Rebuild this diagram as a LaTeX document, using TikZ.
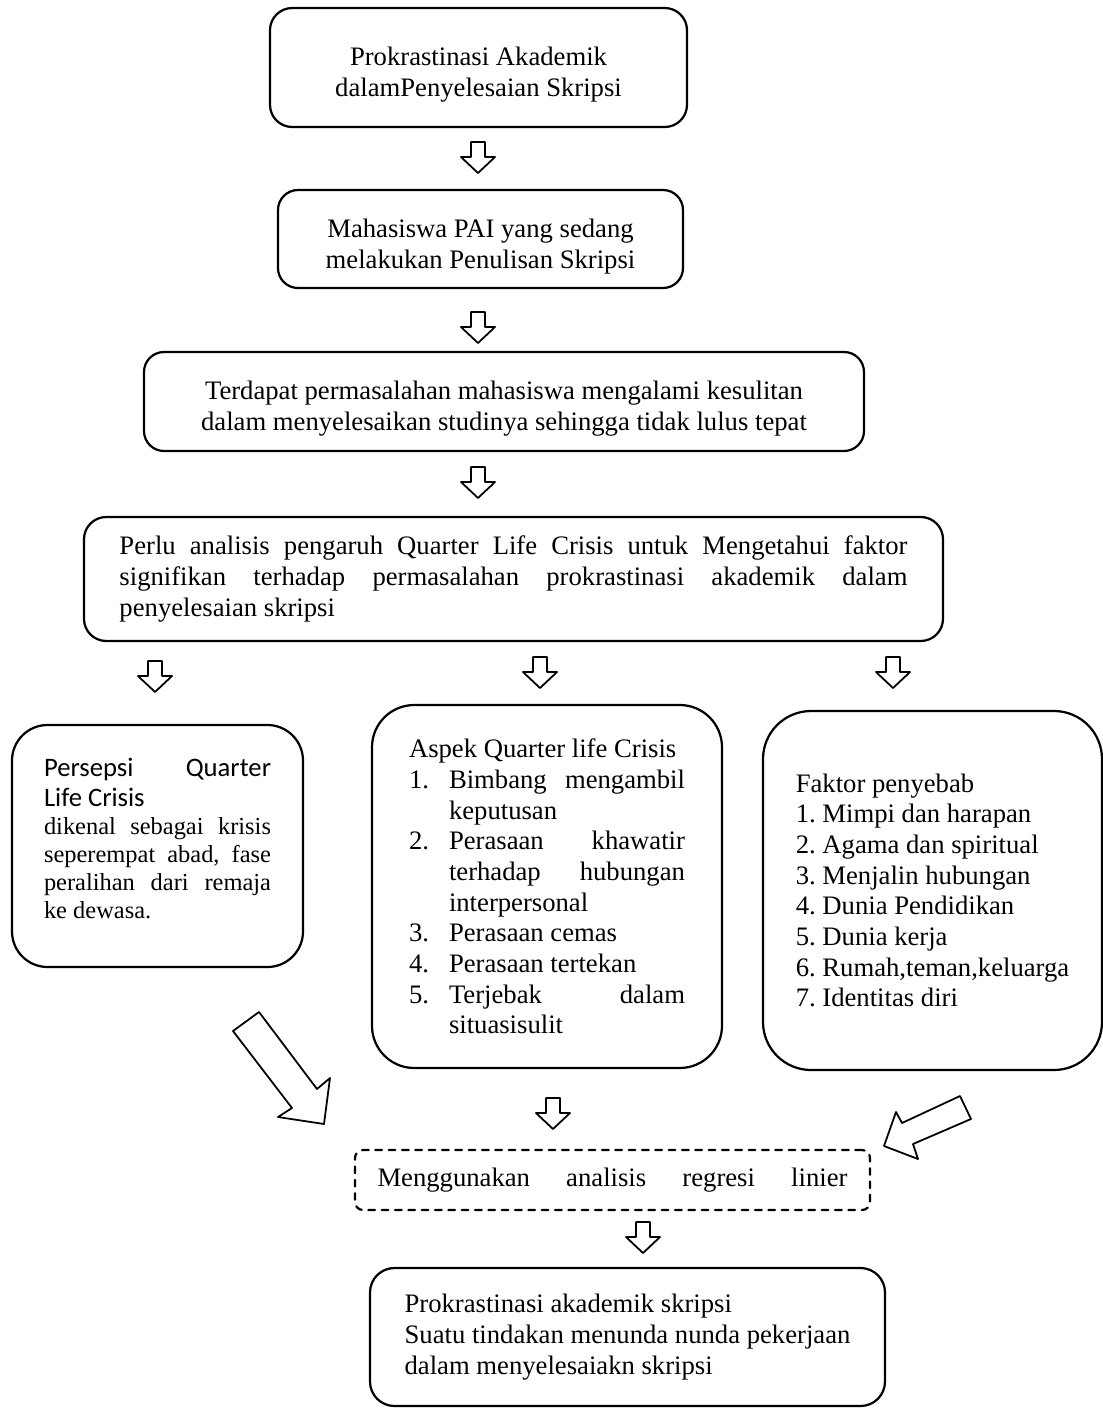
\documentclass[tikz,border=0pt]{standalone}
\usepackage{fontspec}
\setmainfont{Liberation Serif}
\setsansfont{Carlito}
\tolerance=10000
\hbadness=10000
\hyphenpenalty=10000
\frenchspacing
\setlength{\parindent}{0pt}
\newcommand{\pxu}{0.45pt}
\newcommand{\lsitem}[2]{\par\noindent\hangindent=18pt\hangafter=1\makebox[18pt][l]{#1}#2}

\begin{document}
\begin{tikzpicture}[x=\pxu,y=-\pxu,line cap=round,line join=round,
  font=\fontsize{12}{13.8}\selectfont,
  box/.style={draw,line width=1pt,rounded corners=#1,inner sep=0pt},
  arrline/.style={draw,line width=0.8pt,fill=white},
  pics/downarr/.style={code={\draw[arrline] (-7,0) -- (-7,15) -- (-17,15) -- (0,31) -- (17,15) -- (7,15) -- (7,0) -- cycle;}}]
\useasboundingbox (0,0) rectangle (1103,1409);
\node[box=10pt,minimum width=187.65pt,minimum height=53.55pt,align=center] (prok) at (478.5,67.5) {\rule{0pt}{14.5pt}Prokrastinasi Akademik\\dalamPenyelesaian Skripsi};
\node[box=9pt,minimum width=182.25pt,minimum height=44.1pt,align=center] (mhs) at (480.5,239) {\rule{0pt}{15pt}Mahasiswa PAI yang sedang\\melakukan Penulisan Skripsi};
\node[box=9pt,minimum width=324pt,minimum height=44.55pt,align=center] (masalah) at (504,401.5) {\rule{0pt}{14.5pt}Terdapat permasalahan mahasiswa mengalami kesulitan\\dalam menyelesaikan studinya sehingga tidak lulus tepat};
\node[box=10pt,minimum width=386.55pt,minimum height=55.8pt,text width=354.6pt,align=justify] (analisis) at (513.5,579) {Perlu analisis pengaruh Quarter Life Crisis untuk Mengetahui faktor\linebreak signifikan terhadap permasalahan prokrastinasi akademik dalam\linebreak penyelesaian skripsi};
\node[box=16pt,minimum width=130.95pt,minimum height=108.9pt,text width=102.15pt,align=justify] (persepsi) at (157.5,846) {{\fontsize{12}{13.5}\selectfont\sffamily Persepsi\hfill Quarter\\Life Crisis\par}{\fontsize{11}{12.6}\selectfont dikenal sebagai krisis\linebreak seperempat abad, fase\linebreak peralihan dari remaja\linebreak ke dewasa.\par\vspace{-5.4pt}\mbox{}\par}};
\node[box=19pt,minimum width=157.5pt,minimum height=163.35pt,text width=124.2pt,align=justify] (aspek) at (547,886.5) {Aspek Quarter life Crisis
\lsitem{1.}{Bimbang mengambil\linebreak keputusan}
\lsitem{2.}{Perasaan khawatir\linebreak terhadap hubungan\linebreak interpersonal}
\lsitem{3.}{Perasaan cemas}
\lsitem{4.}{Perasaan tertekan}
\lsitem{5.}{Terjebak dalam\linebreak situasisulit}\par};
\node[box=21.6pt,minimum width=152.55pt,minimum height=161.55pt,align=left] (faktor) at (932.5,890.5) {Faktor penyebab\\1. Mimpi dan harapan\\2. Agama dan spiritual\\3. Menjalin hubungan\\4. Dunia Pendidikan\\5. Dunia kerja\\6. Rumah,teman,keluarga\\7. Identitas diri};
\node[box=3.6pt,dashed,minimum width=231.75pt,minimum height=27pt] (regresi) at (612.5,1180) {\makebox[211.5pt][s]{Menggunakan analisis regresi linier}};
\node[box=11pt,minimum width=231.75pt,minimum height=62.1pt,align=left] (hasil) at (627.5,1337) {Prokrastinasi akademik skripsi\\Suatu tindakan menunda nunda pekerjaan\\dalam menyelesaiakn skripsi};
\pic at (478,142) {downarr};
\pic at (478,312) {downarr};
\pic at (478,467) {downarr};
\pic at (155,661) {downarr};
\pic at (540,657) {downarr};
\pic at (893,657) {downarr};
\pic at (553,1098) {downarr};
\pic at (643,1222) {downarr};
\draw[arrline] (233,1031) -- (259,1012) -- (317,1089) -- (330,1078) -- (324,1124) -- (278,1117) -- (292,1108) -- cycle;
\draw[arrline] (960,1096) -- (971,1119) -- (913,1144) -- (918,1159) -- (884,1146) -- (896,1112) -- (902,1123) -- cycle;
\end{tikzpicture}
\end{document}
